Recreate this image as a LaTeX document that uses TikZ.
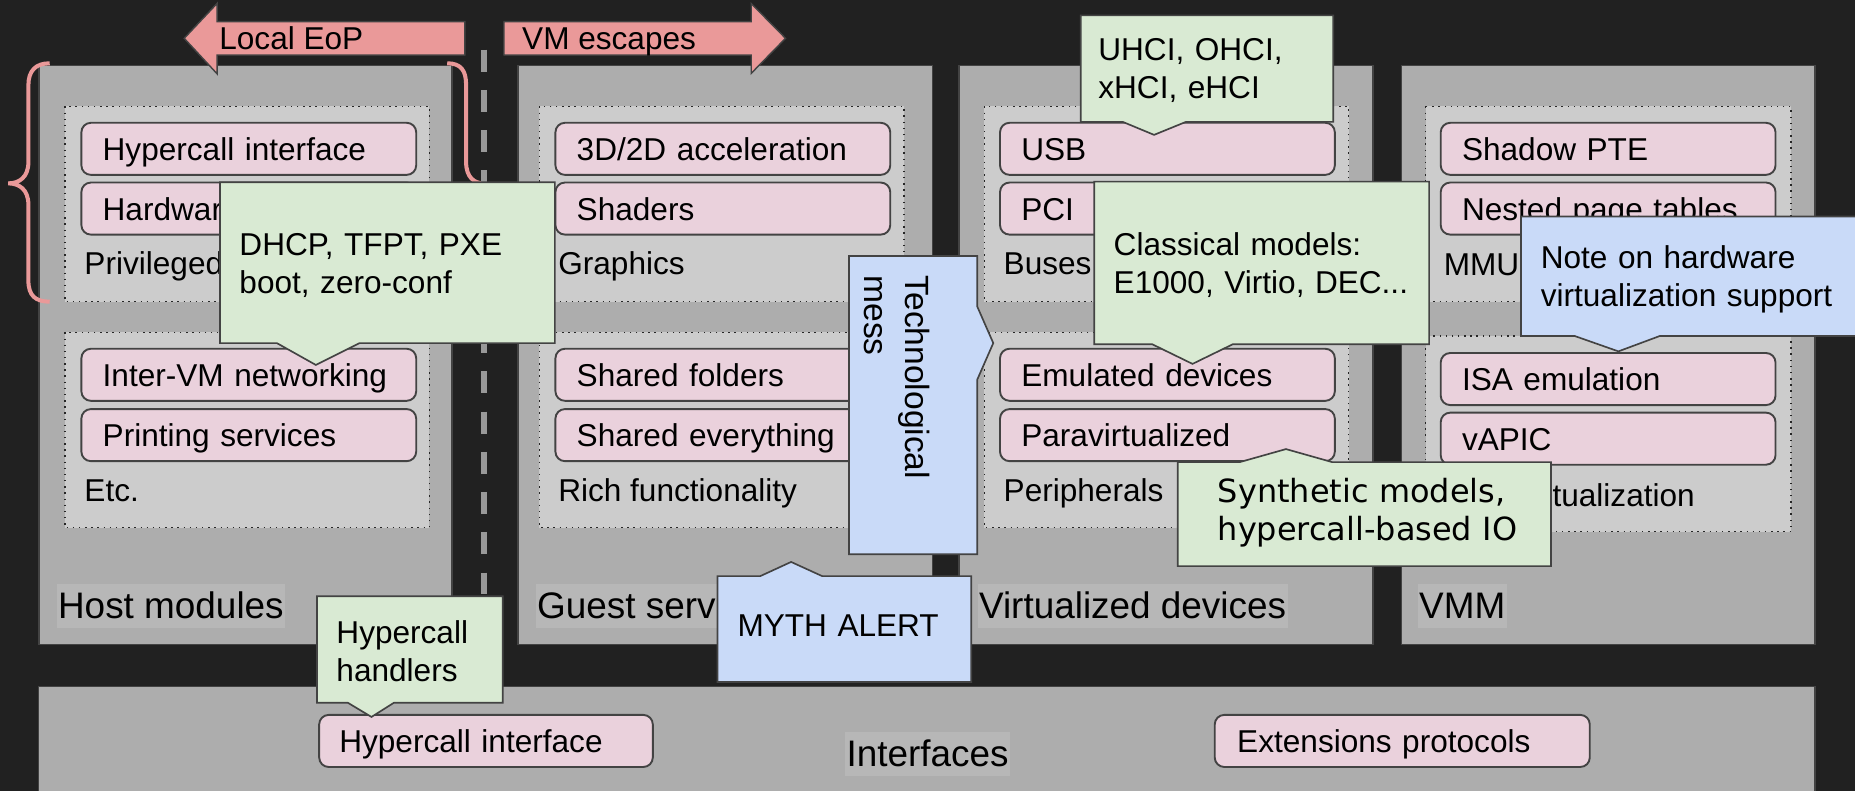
\documentclass[tikz,border=0pt]{standalone}
\usepackage{fontspec}
\setmainfont{Liberation Sans}
\newfontfamily\djv{DejaVu Sans}
\definecolor{bgdark}{HTML}{212121}
\definecolor{boxgray}{HTML}{ADADAD}
\definecolor{panelgray}{HTML}{CCCCCC}
\definecolor{hlgray}{HTML}{B7B7B7}
\definecolor{pinkfill}{HTML}{EAD1DC}
\definecolor{greenfill}{HTML}{D9EAD3}
\definecolor{bluefill}{HTML}{C9DAF8}
\definecolor{arrowpink}{HTML}{EA9999}
\definecolor{bordergray}{HTML}{434343}
\definecolor{dashgray}{HTML}{999999}
\newcommand\ntxt{\fontsize{13.35}{16}\selectfont}
\newcommand\btxt{\fontsize{15.6}{18}\selectfont}
\tikzset{
  bigbox/.style={fill=boxgray, draw=bordergray, line width=0.6pt},
  panel/.style={fill=panelgray, draw=black!85, dotted, line width=0.6pt},
  pinkb/.style={draw=bordergray, fill=pinkfill, line width=0.8pt, rounded corners=4pt,
    anchor=north west, text width=123.5pt, align=left, inner xsep=9pt, inner ysep=0pt,
    minimum height=22pt, text height=11pt, text depth=1pt, font=\ntxt},
  plabel/.style={anchor=base west, inner sep=0pt, font=\ntxt},
  biglabel/.style={anchor=base west, fill=hlgray, inner xsep=0.6pt, inner ysep=0pt,
    text height=14.5pt, text depth=4pt, font=\btxt},
  callgreen/.style={fill=greenfill, draw=bordergray, line width=0.7pt},
  callblue/.style={fill=bluefill, draw=bordergray, line width=0.7pt},
  calltext/.style={anchor=base west, inner sep=0pt, align=left, text width=160pt, font=\ntxt},
  redarrow/.style={fill=arrowpink, draw=bordergray, line width=0.6pt},
  pinkbrace/.style={draw=arrowpink, line width=1.7pt},
}
\begin{document}
\begin{tikzpicture}[x=0.5pt,y=-0.5pt]
\useasboundingbox (0,0) rectangle (1568,668.6);
\fill[bgdark] (0,0) rectangle (1568,668.6);

% big boxes
\draw[bigbox] (33,55.5) rectangle (382,545);
\draw[bigbox] (438,55.5) rectangle (788,545);
\draw[bigbox] (810.5,55.5) rectangle (1160.5,545);
\draw[bigbox] (1184.5,55.5) rectangle (1534,545);
\draw[bigbox] (32.6,580.5) rectangle (1534,690);

% panels
\draw[panel] (55,90) rectangle (363,255);
\draw[panel] (55,281) rectangle (363,446);
\draw[panel] (456,90) rectangle (764,255);
\draw[panel] (456,281) rectangle (764,446);
\draw[panel] (832,90) rectangle (1140,255);
\draw[panel] (832,281) rectangle (1140,446);
\draw[panel] (1205,90) rectangle (1514,255);
\draw[panel] (1205,284) rectangle (1514,449.5);

% host modules
\node[pinkb] (h1) at (68,103) {Hypercall interface};
\node[pinkb] (h2) at (68,153.5) {Hardware};
\node[plabel] (hl1) at (71,232) {Privileged};
\node[pinkb] (h3) at (68,294) {Inter-VM networking};
\node[pinkb] (h4) at (68,345) {Printing services};
\node[plabel] (hl2) at (71,424) {Etc.};
% guest services
\node[pinkb] (g1) at (468.7,103) {3D/2D acceleration};
\node[pinkb] (g2) at (468.7,153.5) {Shaders};
\node[plabel] (gl1) at (471.5,232) {Graphics};
\node[pinkb] (g3) at (468.7,294) {Shared folders};
\node[pinkb] (g4) at (468.7,345) {Shared everything};
\node[plabel] (gl2) at (471.5,424) {Rich functionality};
% virtualized devices
\node[pinkb] (v1) at (844.5,103) {USB};
\node[pinkb] (v2) at (844.5,153.5) {PCI};
\node[plabel] (vl1) at (848,232) {Buses};
\node[pinkb] (v3) at (844.5,294) {Emulated devices};
\node[pinkb] (v4) at (844.5,345) {Paravirtualized};
\node[plabel] (vl2) at (848,424) {Peripherals};
% VMM
\node[pinkb] (m1) at (1217,103) {Shadow PTE};
\node[pinkb] (m2) at (1217,153.5) {Nested page tables};
\node[plabel] (ml1) at (1220,232.5) {MMU};
\node[pinkb] (m3) at (1217,297.6) {ISA emulation};
\node[pinkb] (m4) at (1217,348) {vAPIC};
\node[plabel] (ml2) at (1220,428) {CPU virtualization};

% interfaces
\node[pinkb, text width=124pt, inner xsep=8.5pt] (i1) at (269,603.5) {Hypercall interface};
\node[pinkb, text width=139.5pt, inner xsep=9.5pt] (i2) at (1026,603.5) {Extensions protocols};

% big labels
\node[biglabel] (lhost) at (47.5,523) {Host modules};
\node[biglabel] (lguest) at (452.5,523) {Guest services};
\node[biglabel] (lvirt) at (826,523) {Virtualized devices};
\node[biglabel] (lvmm) at (1198,523) {VMM};
\node[biglabel] (lint) at (714,648) {Interfaces};

% top arrows
\draw[redarrow] (155.7,32.4) -- (183.6,2.8) -- (183.6,18.3) -- (393,18.3) -- (393,46.5)
  -- (183.6,46.5) -- (183.6,62.5) -- cycle;
\node[plabel] (leop) at (185,42) {Local EoP};
\draw[redarrow] (426,18.3) -- (635,18.3) -- (635,3) -- (664,32.4) -- (635,62)
  -- (635,46.5) -- (426,46.5) -- cycle;
\node[plabel] (vmesc) at (441,42) {VM escapes};

% braces
\draw[pinkbrace] (42,53.5) .. controls (30,53.5) and (24,60) .. (24,72) -- (24,137)
  .. controls (24,150) and (16,155) .. (7,155) .. controls (16,155) and (24,160) .. (24,173)
  -- (24,237) .. controls (24,250) and (30,255) .. (42,255);
\draw[pinkbrace] (378,53.5) .. controls (390,53.5) and (394,60) .. (394,72) -- (394,137)
  .. controls (394,150) and (401,155) .. (409,155) .. controls (401,155) and (394,160) .. (394,173)
  -- (394,237) .. controls (394,250) and (390,255) .. (378,255);

% dashed separator
\coordinate (dtop) at (409,42);
\coordinate (dbot) at (409,560);
\draw[dashgray, line width=2.5pt, dash pattern=on 9.25pt off 7.75pt] (dtop) -- (dbot);

% callouts
\draw[callgreen] (913.5,13) -- (1127,13) -- (1127,103) -- (1002.5,103) -- (975.5,114)
  -- (949,103) -- (913.5,103) -- cycle;
\node[calltext] (cusb) at (928,51) {UHCI, OHCI,\\xHCI, eHCI};

\draw[callgreen] (186,154) -- (469,154) -- (469,290) -- (304,290) -- (267,308.5)
  -- (234,290) -- (186,290) -- cycle;
\node[calltext] (cnet) at (202,216) {DHCP, TFPT, PXE\\boot, zero-conf};

\draw[callgreen] (925,153.5) -- (1208,153.5) -- (1208,291) -- (1042,291) -- (1008,307.6)
  -- (974,291) -- (925,291) -- cycle;
\node[calltext] (cclass) at (941,216) {Classical models:\\E1000, Virtio, DEC...};

\draw[callgreen] (995.5,390.6) -- (1048,390.6) -- (1087,379.6) -- (1126,390.6)
  -- (1311,390.6) -- (1311,478.5) -- (995.5,478.5) -- cycle;
\node[calltext, font=\djv\fontsize{13.5}{15.75}\selectfont] (csyn) at (1029,425)
  {Synthetic models,\\hypercall-based IO};

\draw[callgreen] (268,504) -- (425,504) -- (425,594) -- (333,594) -- (314,606)
  -- (294,594) -- (268,594) -- cycle;
\node[calltext] (chyp) at (284,543.7) {Hypercall\\handlers};

\draw[callblue] (717.6,216.4) -- (826,216.4) -- (826,259) -- (839.6,290) -- (826,321)
  -- (826,468.5) -- (717.6,468.5) -- cycle;
\node[calltext, rotate=-90, text width=110pt, font=\fontsize{14.2}{17}\selectfont]
  (ctech) at (765,232.5) {Technological\\mess};

\draw[callblue] (606.5,487) -- (642.6,487) -- (668.7,475) -- (695,487) -- (821,487)
  -- (821,576.5) -- (606.5,576.5) -- cycle;
\node[calltext] (cmyth) at (623,538) {MYTH ALERT};

\draw[callblue] (1285.7,183) -- (1580,183) -- (1580,284) -- (1403,284) -- (1368,297)
  -- (1331,284) -- (1285.7,284) -- cycle;
\node[calltext] (cnote) at (1302,226.8) {Note on hardware\\virtualization support};
\end{tikzpicture}
\end{document}
